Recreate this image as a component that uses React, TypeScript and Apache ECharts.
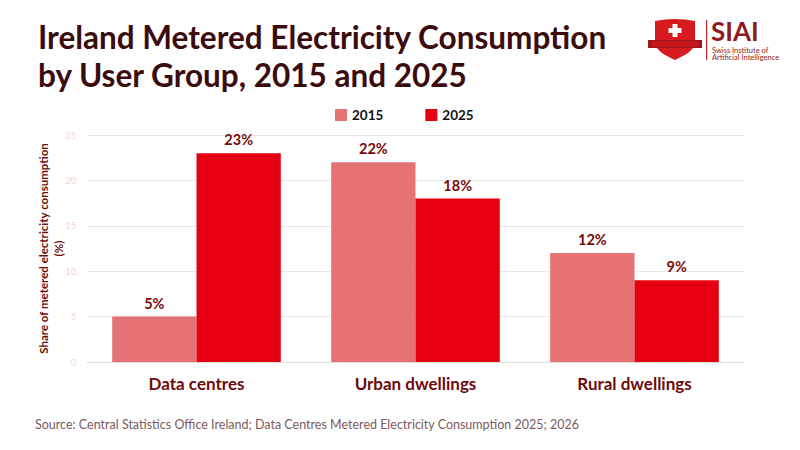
import React, { useEffect, useRef } from "react";
import * as echarts from "echarts";

const categories = ["Data centres", "Urban dwellings", "Rural dwellings"];
const values2015 = [5, 22, 12];
const values2025 = [23, 18, 9];
const seriesNames = ["2015", "2025"];
const yTicks = { min: 0, max: 25, interval: 5 };

const shieldPath =
  "M0 3 Q20 -1 40 3 L40 24 C40 33 28 38 20 42 C12 38 0 33 0 24 Z";
echarts.graphic.registerShape(
  "shieldlogo",
  echarts.graphic.extendPath(shieldPath, {}) as any
);

export default function App() {
  const ref = useRef<HTMLDivElement>(null);
  useEffect(() => {
    if (!ref.current) return;
    const chart = echarts.init(ref.current, null, { renderer: "svg" });
    const labelStyle = {
      show: true,
      position: "top" as const,
      formatter: "{c}%",
      color: "#7a0a0a",
      fontWeight: "bold" as const,
      fontSize: 14.5,
      fontFamily: "Lato",
      distance: 6,
    };
    chart.setOption({
      animation: false,
      backgroundColor: "#ffffff",
      title: {
        text: "Ireland Metered Electricity Consumption\nby User Group, 2015 and 2025",
        left: 33,
        top: 13,
        textStyle: {
          fontFamily: "Lato",
          fontSize: 31.5,
          lineHeight: 38,
          fontWeight: "bold",
          color: "#3b0c0e",
        },
      },
      legend: {
        data: seriesNames,
        top: 103,
        left: 330,
        itemWidth: 12,
        itemHeight: 12,
        itemGap: 42,
        icon: "rect",
        textStyle: {
          fontFamily: "Lato",
          fontSize: 13.5,
          fontWeight: "bold",
          color: "#111111",
        },
      },
      grid: { left: 87, right: 56, top: 135, bottom: 88 },
      xAxis: {
        type: "category",
        data: categories,
        axisTick: { show: false },
        axisLine: { lineStyle: { color: "#dddddd" } },
        axisLabel: {
          fontFamily: "Lato",
          fontSize: 17,
          fontWeight: "bold",
          color: "#6e0a0a",
          margin: 13,
        },
      },
      yAxis: {
        type: "value",
        min: yTicks.min,
        max: yTicks.max,
        interval: yTicks.interval,
        name: "Share of metered electricity consumption\n(%)",
        nameLocation: "middle",
        nameGap: 21,
        nameMoveOverlap: false,
        nameTextStyle: {
          fontFamily: "Lato",
          fontSize: 11.5,
          fontWeight: "bold",
          color: "#6e0a0a",
          lineHeight: 15,
        },
        axisLabel: { color: "#f3d2d2", fontSize: 9, fontFamily: "Lato", margin: 11 },
        splitLine: { lineStyle: { color: "#e8e8ee" } },
        axisLine: { show: false },
        axisTick: { show: false },
      },
      series: [
        {
          name: seriesNames[0],
          type: "bar",
          data: values2015,
          barGap: "0%",
          barCategoryGap: "23%",
          itemStyle: { color: "#e57373" },
          label: labelStyle,
        },
        {
          name: seriesNames[1],
          type: "bar",
          data: values2025,
          barGap: "0%",
          barCategoryGap: "23%",
          itemStyle: { color: "#e60012" },
          label: labelStyle,
        },
      ],
      graphic: [
        {
          type: "text",
          left: 35,
          top: 418,
          style: {
            text: "Source: Central Statistics Office Ireland; Data Centres Metered Electricity Consumption 2025; 2026",
            fontFamily: "Lato",
            fontSize: 12.5,
            fill: "#7b5a5d",
          },
        },
        {
          type: "group",
          left: 648,
          top: 19,
          children: [
            {
              type: "shieldlogo",
              x: 7,
              y: 0,
              scaleX: 1,
              scaleY: 1,
              style: { fill: "#d71920" },
            },
            {
              type: "rect",
              shape: { x: 0, y: 22, width: 54, height: 8 },
              style: { fill: "#a3141b" },
            },
            {
              type: "rect",
              shape: { x: 4, y: 23.5, width: 46, height: 5 },
              style: { fill: "#c8161d" },
            },
            {
              type: "rect",
              shape: { x: 24.5, y: 6, width: 5, height: 13 },
              style: { fill: "#ffffff" },
            },
            {
              type: "rect",
              shape: { x: 20.5, y: 10, width: 13, height: 5 },
              style: { fill: "#ffffff" },
            },
          ],
        },
        {
          type: "rect",
          left: 706,
          top: 20,
          shape: { width: 1.2, height: 40 },
          style: { fill: "#c0272d" },
        },
        {
          type: "text",
          left: 711,
          top: 18,
          style: {
            text: "SIAI",
            fontFamily: "Lato",
            fontSize: 26,
            fontWeight: "bold",
            fill: "#8e1b22",
          },
        },
        {
          type: "text",
          left: 712,
          top: 46,
          style: {
            text: "Swiss Institute of\nArtificial Intelligence",
            fontFamily: "Lato",
            fontSize: 7.5,
            lineHeight: 7.5,
            fill: "#8e1b22",
          },
        },
      ],
    });
    return () => chart.dispose();
  }, []);
  return (
    <div
      ref={ref}
      style={{ position: "fixed", left: 0, top: 0, width: 800, height: 450 }}
    />
  );
}
